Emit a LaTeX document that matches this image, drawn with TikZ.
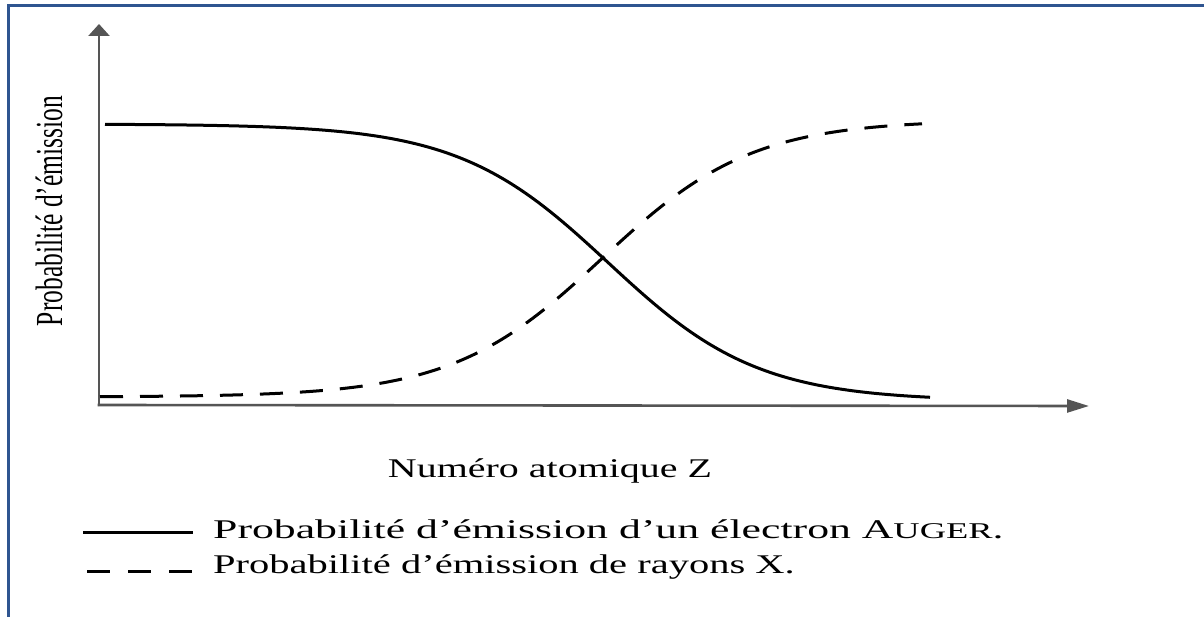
\documentclass[tikz,border=0pt]{standalone}
\usepackage{fontspec}
\setmainfont{Liberation Serif}
\usetikzlibrary{arrows.meta}
\definecolor{framecol}{HTML}{2F5590}
\definecolor{axiscol}{HTML}{555555}
\tikzset{
  axisline/.style={draw=axiscol, line width=2.6pt},
  curve/.style={draw=black, line width=3pt},
  dashcurve/.style={draw=black, line width=3pt, dash pattern=on 23pt off 17pt},
  lbl/.style={inner sep=0pt, font=\fontsize{27}{30}\selectfont},
}
\begin{document}
\begin{tikzpicture}[x=1pt, y=-1pt]
\useasboundingbox (0,0) rectangle (1204,617);
\fill[white] (0,0) rectangle (1204,617);
% frame
\draw[framecol, line width=3pt] (8,640) -- (8,5.5) -- (1220,5.5);
% axes
\coordinate (O) at (99,405);
\coordinate (Ytip) at (99,24);
\coordinate (Xtip) at (1089,406);
\draw[axisline, -{Triangle[length=12pt, width=21pt]}] (99,406.3) -- (Ytip);
\draw[axisline, -{Triangle[length=22pt, width=13pt]}] (97.7,405) -- (Xtip);
% curves
\draw[curve] plot[domain=105:930, samples=150, smooth] (\x, {124+277/(1+exp(-(\x-608)/75))});
\draw[dashcurve] plot[domain=100:922, samples=150, smooth] (\x, {397-277/(1+exp(-(\x-602)/75))});
% labels
\node[inner sep=0pt, rotate=90] (ylab) at (49,211)
  {\scalebox{1}[1.5]{\fontsize{25.5}{28}\selectfont Probabilité d'émission}};
\node[inner sep=0pt, anchor=base] (xlab) at (550,477)
  {\scalebox{1.48}[1]{\fontsize{27}{30}\selectfont Numéro atomique Z}};
\coordinate (l1a) at (83,532);
\coordinate (l1b) at (193,532);
\coordinate (l2a) at (87,571);
\coordinate (l2b) at (193,571);
\draw[curve] (l1a) -- (l1b);
\draw[dashcurve, dash pattern=on 23pt off 18pt] (l2a) -- (l2b);
\node[inner sep=0pt, anchor=base west] (leg1) at (213,538)
  {\scalebox{1.62}[1]{\fontsize{27}{30}\selectfont Probabilité d’émission d’un électron A{\fontsize{22.5}{24}\selectfont UGER}.}};
\node[inner sep=0pt, anchor=base west] (leg2) at (213,573)
  {\scalebox{1.5}[1]{\fontsize{27}{30}\selectfont Probabilité d’émission de rayons X.}};
\end{tikzpicture}
\end{document}
